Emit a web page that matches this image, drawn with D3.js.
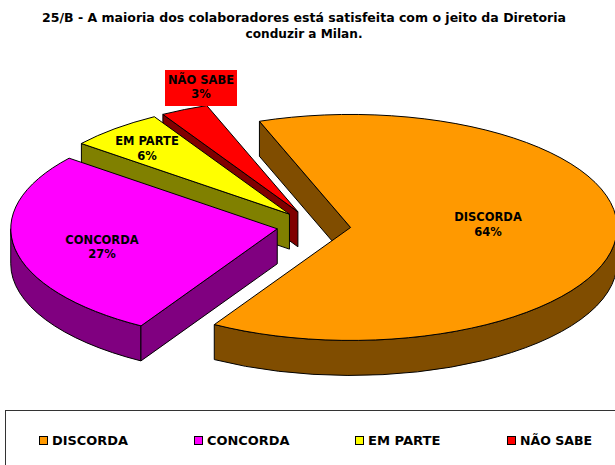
<!DOCTYPE html>
<html>
<head>
<meta charset="utf-8">
<script src="https://cdn.jsdelivr.net/npm/d3@7"></script>
<style>
html,body{margin:0;padding:0;background:#fff;overflow:hidden}
svg{display:block}
text{font-family:"DejaVu Sans",sans-serif;font-weight:bold;fill:#000}
</style>
</head>
<body>
<svg id="c" width="615" height="465"></svg>
<script>
const categories = ["DISCORDA","CONCORDA","EM PARTE","NÃO SABE"];
const values = [64.1,27.2,5.8,2.9];
const colors = ["#FF9900","#FF00FF","#FFFF00","#FF0000"];
const sideColors = ["#804D00","#800080","#808000","#800000"];
const titleLines = ["25/B - A maioria dos colaboradores está satisfeita com o jeito da Diretoria","conduzir a Milan."];

const svg = d3.select("#c");
const cx = 313.7, cy = 226, rx = 266.5, ry = 113, depth = 35, explode = 0.139;
const rot = -20 * Math.PI / 180;
const pie = d3.pie().sort(null).startAngle(rot).endAngle(rot + 2 * Math.PI);
const arcs = pie(values);
const arcGen = d3.arc().innerRadius(0).outerRadius(1);

const X = d3.scaleLinear().domain([-1,1]).range([cx-rx,cx+rx]);
const Y = d3.scaleLinear().domain([-1,1]).range([cy-ry,cy+ry]);

function geom(a){
  const mid=(a.startAngle+a.endAngle)/2;
  const ox=X(explode*Math.sin(mid)), oy=Y(-explode*Math.cos(mid));
  const pt=t=>[ox+rx*Math.sin(t), oy-ry*Math.cos(t)];
  return {ox,oy,pt};
}
function rimArc(t0,t1,g){
  const p0=g.pt(t0), p1=g.pt(t1);
  const large=(t1-t0)>Math.PI?1:0;
  return `M${p0[0]},${p0[1]}A${rx},${ry} 0 ${large} 1 ${p1[0]},${p1[1]}`+
         `L${p1[0]},${p1[1]+depth}A${rx},${ry} 0 ${large} 0 ${p0[0]},${p0[1]+depth}Z`;
}
function radialWall(t,g){
  const p=g.pt(t);
  return `M${p[0]},${p[1]}L${g.ox},${g.oy}L${g.ox},${g.oy+depth}L${p[0]},${p[1]+depth}Z`;
}

const order=[0,3,2,1];
const G=svg.append("g");
order.forEach(i=>{
  const a=arcs[i], g=geom(a);
  const wall=G.append("g").attr("fill",sideColors[i]).attr("stroke","#000").attr("stroke-width",1).attr("stroke-linejoin","round");
  if(i===0) wall.append("path").attr("d",rimArc(Math.PI/2,a.endAngle,g));
  if(i===1) wall.append("path").attr("d",rimArc(a.startAngle,1.5*Math.PI,g));
  wall.append("path").attr("d",radialWall(a.startAngle,g));
  G.append("path")
    .attr("d",arcGen(a))
    .attr("transform",`translate(${g.ox},${g.oy}) scale(${rx},${ry})`)
    .attr("fill",colors[i])
    .attr("stroke","#000")
    .attr("stroke-width",1)
    .attr("stroke-linejoin","round")
    .attr("vector-effect","non-scaling-stroke");
});

// title
const titleWidths=[524,117];
svg.selectAll("text.title").data(titleLines).join("text")
  .attr("class","title")
  .attr("x",304)
  .attr("y",(d,i)=>22+i*15.5)
  .attr("text-anchor","middle")
  .attr("font-size",12.5)
  .attr("textLength",(d,i)=>titleWidths[i])
  .attr("lengthAdjust","spacingAndGlyphs")
  .text(d=>d);

// slice labels
const labelPos=[[488,221],[102,243.5],[147,145],[201,83.5]];
svg.append("rect").attr("x",165).attr("y",70).attr("width",72).attr("height",36).attr("fill",colors[3]);
categories.forEach((c,i)=>{
  const t=svg.append("text").attr("text-anchor","middle").attr("font-size",11.5);
  t.append("tspan").attr("x",labelPos[i][0]).attr("y",labelPos[i][1]).text(c);
  t.append("tspan").attr("x",labelPos[i][0]).attr("y",labelPos[i][1]+14.5).text(Math.round(values[i])+"%");
});

// legend
svg.append("rect").attr("x",5.5).attr("y",410.5).attr("width",640).attr("height",80)
  .attr("fill","#fff").attr("stroke","#333").attr("stroke-width",1);
const swatchX=[39.5,194.5,355.5,507.5];
const legendWidths=[76,82.5,72.5,72];
categories.forEach((c,i)=>{
  svg.append("rect").attr("x",swatchX[i]).attr("y",436.5).attr("width",8).attr("height",8)
    .attr("fill",colors[i]).attr("stroke","#000").attr("stroke-width",1);
  svg.append("text").attr("x",swatchX[i]+12.5).attr("y",445).attr("font-size",12.8)
    .attr("textLength",legendWidths[i]).attr("lengthAdjust","spacingAndGlyphs").text(c);
});
</script>
</body>
</html>
